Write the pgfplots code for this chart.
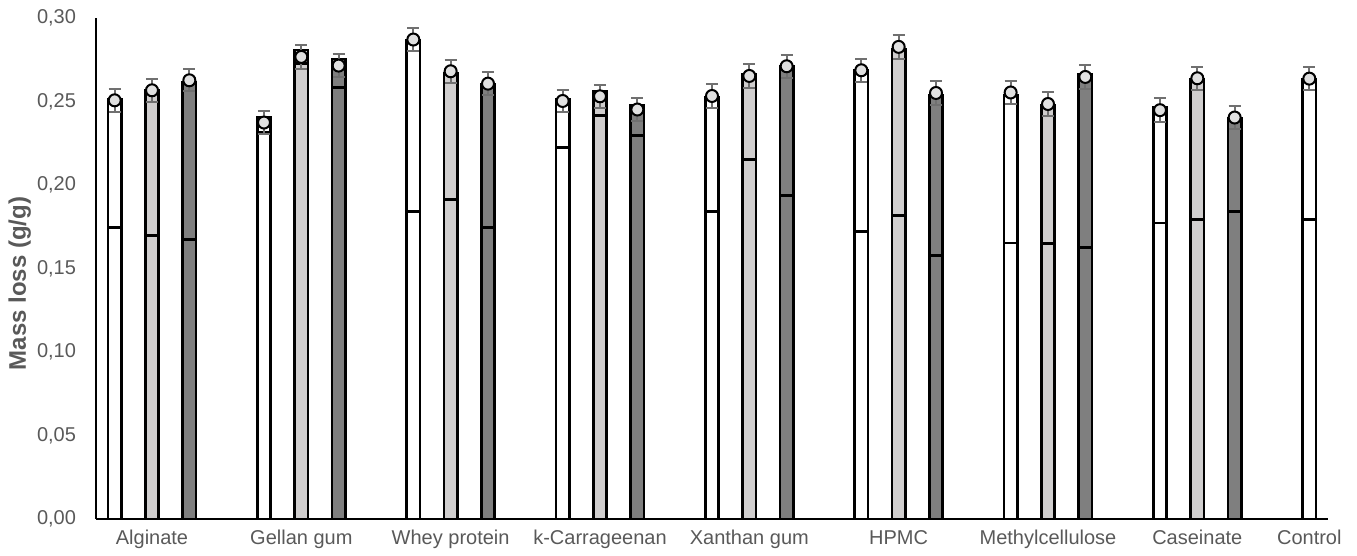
\documentclass[border=0pt]{standalone}
\usepackage{fontspec}
\setmainfont{Liberation Sans}
\usepackage{pgfplots}
\usepackage{pgfplotstable}
\pgfplotsset{compat=1.18}
\definecolor{txt}{HTML}{595959}
\definecolor{lgray}{HTML}{D0CECE}
\definecolor{dgray}{HTML}{7F7F7F}
\definecolor{mfill}{HTML}{E0E0E0}
\definecolor{ebar}{HTML}{707070}

\pgfplotstableread{
x  top    low    mark   err
0  0.2513 0.1746 0.2507 0.0070
4  0.2404 0.2314 0.2374 0.0069
8  0.2867 0.1841 0.2871 0.0070
12 0.2513 0.2226 0.2503 0.0068
16 0.2527 0.1841 0.2533 0.0070
20 0.2687 0.1722 0.2687 0.0070
24 0.2537 0.1652 0.2554 0.0070
28 0.2467 0.1771 0.2448 0.0070
32 0.2631 0.1793 0.2637 0.0069
}\tabW
\pgfplotstableread{
x  top    low    mark   err
1  0.2567 0.1698 0.2567 0.0068
5  0.2809 0.2727 0.2767 0.0070
9  0.2671 0.1913 0.2681 0.0070
13 0.2560 0.2416 0.2531 0.0068
17 0.2663 0.2153 0.2653 0.0070
21 0.2813 0.1817 0.2827 0.0072
25 0.2478 0.1650 0.2485 0.0070
29 0.2631 0.1793 0.2639 0.0069
}\tabL
\pgfplotstableread{
x  top    low    mark   err
2  0.2615 0.1674 0.2627 0.0067
6  0.2755 0.2584 0.2715 0.0071
10 0.2603 0.1746 0.2607 0.0068
14 0.2478 0.2296 0.2452 0.0069
18 0.2713 0.1937 0.2711 0.0070
22 0.2536 0.1578 0.2551 0.0070
26 0.2665 0.1626 0.2647 0.0070
30 0.2400 0.1841 0.2404 0.0069
}\tabD

\pgfplotsset{
  mybar/.style={ybar, bar shift=0pt, bar width=6.7pt, draw=black, line width=1.25pt},
  mymark/.style={only marks, mark=*, mark size=3pt, mark options={fill=mfill, draw=black, line width=1pt},
    error bars/y dir=both, error bars/y explicit,
    error bars/error mark options={rotate=90, mark size=3pt, ebar, line width=1pt},
    error bars/error bar style={ebar, line width=1pt}},
}

\begin{document}
\begin{tikzpicture}
\useasboundingbox (-48pt,-18.5pt) rectangle (630.5pt,259.5pt);
\begin{axis}[
  at={(0,0)}, anchor=south west,
  scale only axis, width=616pt, height=250.5pt,
  xmin=-0.5, xmax=32.5, ymin=0, ymax=0.30,
  axis x line=bottom, axis y line=left,
  axis line style={-, black, line width=1pt},
  major tick length=0pt,
  xtick={1,5,9,13,17,21,25,29,32},
  xticklabels={Alginate,Gellan gum,Whey protein,k-Carrageenan,Xanthan gum,HPMC,Methylcellulose,Caseinate,Control},
  ytick={0,0.05,0.10,0.15,0.20,0.25,0.30},
  /pgf/number format/fixed, /pgf/number format/fixed zerofill, /pgf/number format/precision=2,
  /pgf/number format/use comma, /pgf/number format/assume math mode=true,
  ticklabel style={font=\fontsize{10}{12}\selectfont, text=txt},
  yticklabel style={xshift=-6.5pt},
  xticklabel style={yshift=-2pt},
  ylabel={Mass loss (g/g)},
  ylabel style={at={(axis description cs:-0.062,0.47)}, anchor=center, font=\bfseries\fontsize{12}{14}\selectfont, text=txt},
  clip=false,
]
\addplot[mybar, fill=white] table[x=x,y=top]{\tabW};
\addplot[mybar, fill=lgray] table[x=x,y=top]{\tabL};
\addplot[mybar, fill=dgray] table[x=x,y=top]{\tabD};
\addplot[mybar, fill=white] table[x=x,y=low]{\tabW};
\addplot[mybar, fill=lgray] table[x=x,y=low]{\tabL};
\addplot[mybar, fill=dgray] table[x=x,y=low]{\tabD};
\addplot[mymark] table[x=x, y=mark, y error=err]{\tabW};
\addplot[mymark] table[x=x, y=mark, y error=err]{\tabL};
\addplot[mymark] table[x=x, y=mark, y error=err]{\tabD};
\end{axis}
\end{tikzpicture}
\end{document}
